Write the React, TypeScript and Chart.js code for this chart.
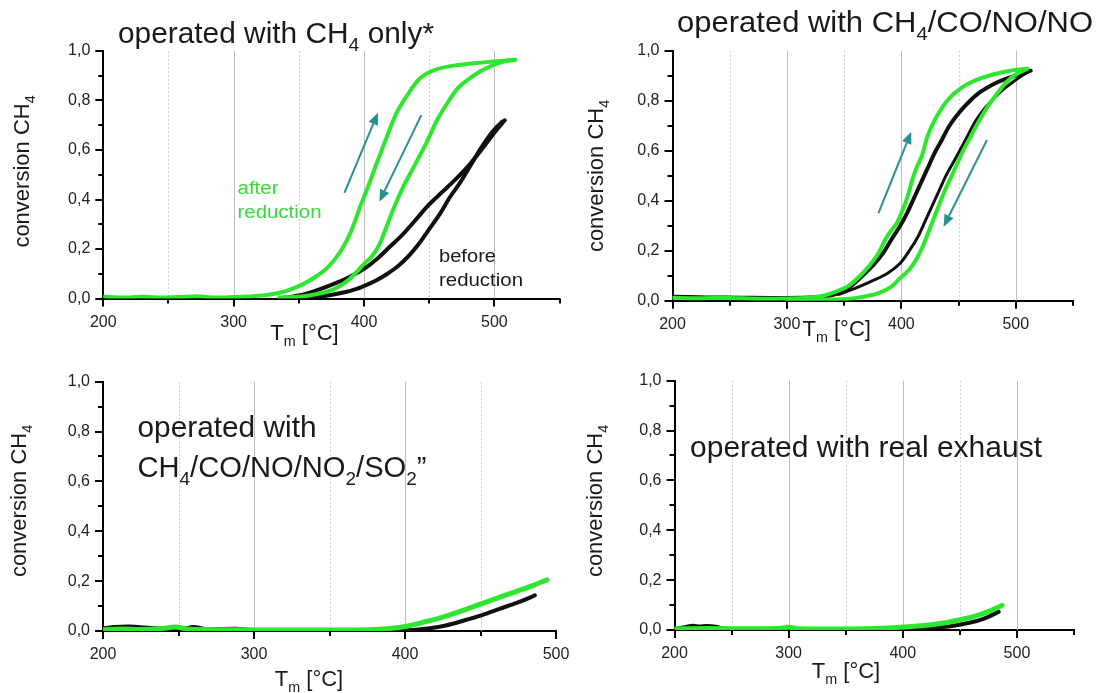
import React, { useEffect, useRef } from 'react';
import { Chart, registerables } from 'chart.js';

Chart.register(...registerables);

type Pt = [number, number];

// ---------------- data (temperature °C, conversion CH4) ----------------
// Panel 1: operated with CH4 only
const p1AfterHeat: Pt[] = [[200,0.008],[215,0.004],[230,0.007],[245,0.004],[260,0.006],[272,0.009],[285,0.004],[300,0.006],[315,0.009],[328,0.016],[340,0.03],[352,0.055],[362,0.085],[372,0.125],[382,0.19],[390,0.27],[397,0.37],[403,0.45],[410,0.55],[418,0.66],[425,0.75],[433,0.82],[443,0.89],[455,0.925],[470,0.942],[490,0.953],[505,0.96],[516,0.965]];
const p1AfterCool: Pt[] = [[516,0.965],[508,0.958],[500,0.945],[490,0.92],[480,0.885],[472,0.85],[464,0.79],[456,0.72],[448,0.63],[438,0.53],[430,0.45],[424,0.38],[418,0.3],[412,0.22],[406,0.17],[400,0.14],[394,0.105],[387,0.07],[378,0.04],[366,0.02],[352,0.008],[335,0.004]];
const p1BeforeA: Pt[] = [[338,0.003],[350,0.012],[362,0.03],[375,0.055],[388,0.085],[400,0.12],[410,0.16],[420,0.21],[430,0.26],[440,0.32],[450,0.38],[460,0.43],[470,0.48],[480,0.535],[490,0.6],[500,0.67],[508,0.72]];
const p1BeforeB: Pt[] = [[355,0.002],[370,0.01],[385,0.025],[395,0.04],[402,0.055],[410,0.075],[418,0.1],[426,0.13],[434,0.17],[442,0.22],[450,0.28],[458,0.34],[466,0.41],[474,0.47],[482,0.54],[490,0.61],[498,0.67],[506,0.715]];

// Panel 2: operated with CH4/CO/NO/NO
const p2AfterHeat: Pt[] = [[200,0.012],[225,0.01],[250,0.011],[275,0.008],[300,0.009],[318,0.012],[332,0.02],[344,0.038],[354,0.06],[364,0.1],[372,0.14],[380,0.19],[386,0.245],[391,0.28],[396,0.31],[400,0.35],[405,0.41],[410,0.49],[414,0.54],[418,0.58],[423,0.66],[430,0.73],[440,0.8],[452,0.85],[465,0.882],[480,0.905],[495,0.92],[510,0.928]];
const p2AfterCool: Pt[] = [[510,0.928],[500,0.905],[492,0.875],[484,0.83],[476,0.78],[468,0.72],[461,0.66],[454,0.6],[449,0.55],[443,0.49],[437,0.43],[431,0.36],[425,0.29],[419,0.22],[413,0.165],[407,0.125],[400,0.095],[391,0.055],[380,0.03],[366,0.015],[350,0.006],[330,0.005],[300,0.006]];
const p2BeforeA: Pt[] = [[200,0.016],[230,0.013],[260,0.012],[290,0.011],[320,0.013],[335,0.018],[345,0.03],[355,0.055],[366,0.1],[376,0.145],[384,0.19],[392,0.25],[399,0.3],[405,0.35],[411,0.41],[417,0.47],[423,0.53],[429,0.59],[435,0.64],[442,0.7],[450,0.75],[459,0.795],[469,0.835],[480,0.865],[490,0.885],[500,0.9],[513,0.92]];
const p2BeforeB: Pt[] = [[345,0.025],[360,0.05],[375,0.08],[388,0.11],[399,0.15],[407,0.2],[415,0.26],[421,0.32],[427,0.38],[433,0.44],[439,0.5],[445,0.55],[451,0.6],[458,0.66],[465,0.72],[473,0.77],[482,0.815],[491,0.852],[499,0.88],[506,0.902],[513,0.92]];

// Panel 3: operated with CH4/CO/NO/NO2/SO2
const p3After: Pt[] = [[200,0.005],[212,0.008],[225,0.006],[238,0.009],[248,0.016],[256,0.008],[270,0.006],[290,0.005],[320,0.004],[350,0.004],[375,0.005],[390,0.01],[402,0.02],[414,0.038],[426,0.058],[438,0.082],[450,0.108],[462,0.134],[473,0.157],[484,0.181],[494,0.205]];
const p3Before: Pt[] = [[200,0.01],[208,0.016],[218,0.018],[228,0.014],[240,0.009],[252,0.007],[260,0.016],[268,0.008],[288,0.009],[300,0.004],[340,0.003],[380,0.003],[405,0.004],[415,0.01],[427,0.022],[439,0.042],[451,0.064],[463,0.09],[474,0.113],[482,0.132],[486,0.143]];

// Panel 4: operated with real exhaust
const p4After: Pt[] = [[200,0.004],[230,0.006],[260,0.005],[290,0.006],[300,0.011],[308,0.005],[340,0.004],[370,0.005],[395,0.01],[410,0.015],[425,0.021],[440,0.031],[452,0.043],[464,0.057],[476,0.076],[487,0.099]];
const p4Before: Pt[] = [[200,0.004],[210,0.012],[216,0.017],[222,0.014],[228,0.016],[236,0.013],[244,0.005],[280,0.004],[330,0.004],[380,0.003],[410,0.004],[425,0.007],[440,0.014],[452,0.023],[464,0.035],[475,0.053],[484,0.073]];

// arrows (data coordinates: from -> to)
const p1Arrows: [Pt, Pt][] = [[[385, 0.427], [410.7, 0.751]], [[444, 0.741], [411.8, 0.391]]];
const p2Arrows: [Pt, Pt][] = [[[380, 0.35], [408.6, 0.676]], [[474.8, 0.643], [436.9, 0.296]]];

// axes
const X_MIN = 200;
const X_STEP = 50;
const Y_STEP = 0.1;
const p1XMax = 550, p2XMax = 550, p3XMax = 500, p4XMax = 550;

// ---------------- styling ----------------
const FONT = "'Liberation Sans', Arial, Helvetica, sans-serif";
const GREEN = '#2ee62e';
const GREEN_TEXT = '#3ad83a';
const BLACK = '#111111';
const TEAL = '#2a8f8f';
const TEXT = '#1a1a1a';

type Seg = { t: string; sub?: boolean };
type TextItem = { segs: Seg[]; x: number; y: number; size: number; w?: number; color?: string; align?: 'left' | 'center'; rot?: boolean };
type Series = { data: Pt[]; color: string; width: number };
type PanelCfg = {
  left: number; top: number; w: number; h: number;
  area: { l: number; t: number; r: number; b: number };
  xMax: number;
  series: Series[];
  texts: TextItem[];
  arrows: [Pt, Pt][];
};

const ylab = (x: number, y: number): TextItem => ({ segs: [{ t: 'conversion CH' }, { t: '4', sub: true }], x, y, size: 22, align: 'center', rot: true });
const xlab = (x: number, y: number): TextItem => ({ segs: [{ t: 'T' }, { t: 'm', sub: true }, { t: ' [°C]' }], x, y, size: 22, align: 'center' });

const PANELS: PanelCfg[] = [
  {
    left: 0, top: 0, w: 575, h: 350,
    area: { l: 103.3, t: 51, r: 559.5, b: 298.5 },
    xMax: p1XMax,
    series: [
      { data: p1AfterHeat, color: GREEN, width: 4 },
      { data: p1AfterCool, color: GREEN, width: 4 },
      { data: p1BeforeA, color: BLACK, width: 4 },
      { data: p1BeforeB, color: BLACK, width: 4 },
    ],
    texts: [
      { segs: [{ t: 'operated with CH' }, { t: '4', sub: true }, { t: ' only*' }], x: 118, y: 43, size: 29, w: 316 },
      ylab(28.5, 171.5),
      xlab(304.5, 340),
      { segs: [{ t: 'after' }], x: 237.5, y: 194, size: 18, w: 41, color: GREEN_TEXT },
      { segs: [{ t: 'reduction' }], x: 237.5, y: 218, size: 18, w: 84, color: GREEN_TEXT },
      { segs: [{ t: 'before' }], x: 439, y: 262, size: 18, w: 57 },
      { segs: [{ t: 'reduction' }], x: 439, y: 286, size: 18, w: 84 },
    ],
    arrows: p1Arrows,
  },
  {
    left: 575, top: 0, w: 529, h: 350,
    area: { l: 672.5, t: 50.7, r: 1073, b: 300.7 },
    xMax: p2XMax,
    series: [
      { data: p2AfterHeat, color: GREEN, width: 4 },
      { data: p2AfterCool, color: GREEN, width: 4 },
      { data: p2BeforeA, color: BLACK, width: 4 },
      { data: p2BeforeB, color: BLACK, width: 3 },
    ],
    texts: [
      { segs: [{ t: 'operated with CH' }, { t: '4', sub: true }, { t: '/CO/NO/NO' }], x: 677, y: 32, size: 29, w: 416 },
      ylab(603, 176),
      xlab(836.7, 336),
    ],
    arrows: p2Arrows,
  },
  {
    left: 0, top: 350, w: 575, h: 343,
    area: { l: 103, t: 381.7, r: 556, b: 631 },
    xMax: p3XMax,
    series: [
      { data: p3After, color: GREEN, width: 5 },
      { data: p3Before, color: BLACK, width: 4 },
    ],
    texts: [
      { segs: [{ t: 'operated with' }], x: 137.5, y: 436.7, size: 29, w: 179 },
      { segs: [{ t: 'CH' }, { t: '4', sub: true }, { t: '/CO/NO/NO' }, { t: '2', sub: true }, { t: '/SO' }, { t: '2', sub: true }, { t: '”' }], x: 137.5, y: 476.7, size: 29, w: 289 },
      ylab(25.5, 501),
      xlab(309, 686),
    ],
    arrows: [],
  },
  {
    left: 575, top: 350, w: 529, h: 343,
    area: { l: 674.5, t: 380.7, r: 1074, b: 630 },
    xMax: p4XMax,
    series: [
      { data: p4After, color: GREEN, width: 5 },
      { data: p4Before, color: BLACK, width: 4 },
    ],
    texts: [
      { segs: [{ t: 'operated with real exhaust' }], x: 690, y: 456.7, size: 29, w: 352 },
      ylab(601.5, 501),
      xlab(846, 678),
    ],
    arrows: [],
  },
];

function drawRich(ctx: CanvasRenderingContext2D, it: TextItem) {
  const subScale = 0.65;
  const widths = it.segs.map((s) => {
    ctx.font = `${s.sub ? it.size * subScale : it.size}px ${FONT}`;
    return ctx.measureText(s.t).width;
  });
  const nat = widths.reduce((a, b) => a + b, 0);
  const sx = it.w ? it.w / nat : 1;
  ctx.save();
  ctx.translate(it.x, it.y);
  if (it.rot) ctx.rotate(-Math.PI / 2);
  ctx.scale(sx, 1);
  let cx = it.align === 'center' ? -nat / 2 : 0;
  ctx.fillStyle = it.color || TEXT;
  ctx.textAlign = 'left';
  ctx.textBaseline = 'alphabetic';
  it.segs.forEach((s, i) => {
    ctx.font = `${s.sub ? it.size * subScale : it.size}px ${FONT}`;
    ctx.fillText(s.t, cx, s.sub ? it.size * 0.28 : 0);
    cx += widths[i];
  });
  ctx.restore();
}

function makeDecor(cfg: PanelCfg) {
  return {
    id: 'decor',
    beforeDatasetsDraw(chart: any) {
      const { ctx, chartArea: a } = chart;
      const xs = chart.scales.x;
      ctx.save();
      ctx.lineWidth = 1;
      for (const t of xs.ticks) {
        const v = t.value;
        if (v <= xs.min || v >= xs.max) continue;
        const px = Math.round(xs.getPixelForValue(v)) + 0.5;
        const major = Math.round(v) % 100 === 0;
        ctx.strokeStyle = major ? '#bcbcbc' : '#cfcfcf';
        ctx.setLineDash(major ? [] : [2, 2]);
        ctx.beginPath();
        ctx.moveTo(px, a.top);
        ctx.lineTo(px, a.bottom);
        ctx.stroke();
      }
      ctx.restore();
    },
    afterDraw(chart: any) {
      const { ctx, chartArea: a } = chart;
      const xs = chart.scales.x;
      const ys = chart.scales.y;
      ctx.save();
      // tick marks
      ctx.strokeStyle = '#000';
      ctx.lineWidth = 2;
      ctx.setLineDash([]);
      ctx.beginPath();
      for (const t of xs.ticks) {
        const px = Math.round(xs.getPixelForValue(t.value));
        const len = Math.round(t.value) % 100 === 0 ? 8 : 5;
        ctx.moveTo(px, a.bottom);
        ctx.lineTo(px, a.bottom + len);
      }
      for (const t of ys.ticks) {
        const py = Math.round(ys.getPixelForValue(t.value));
        const len = Math.round(t.value * 10) % 2 === 0 ? 8 : 5;
        ctx.moveTo(a.left, py);
        ctx.lineTo(a.left - len, py);
      }
      ctx.stroke();

      // arrows
      ctx.strokeStyle = TEAL;
      ctx.fillStyle = TEAL;
      ctx.lineWidth = 2;
      for (const [f, t] of cfg.arrows) {
        const x0 = xs.getPixelForValue(f[0]), y0 = ys.getPixelForValue(f[1]);
        const x1 = xs.getPixelForValue(t[0]), y1 = ys.getPixelForValue(t[1]);
        const ang = Math.atan2(y1 - y0, x1 - x0);
        const hl = 12, hw = 5;
        const bx = x1 - hl * Math.cos(ang), by = y1 - hl * Math.sin(ang);
        ctx.beginPath();
        ctx.moveTo(x0, y0);
        ctx.lineTo(bx, by);
        ctx.stroke();
        ctx.beginPath();
        ctx.moveTo(x1, y1);
        ctx.lineTo(bx + hw * Math.sin(ang), by - hw * Math.cos(ang));
        ctx.lineTo(bx - hw * Math.sin(ang), by + hw * Math.cos(ang));
        ctx.closePath();
        ctx.fill();
      }

      // texts (page coordinates)
      ctx.translate(-cfg.left, -cfg.top);
      for (const it of cfg.texts) drawRich(ctx, it);
      ctx.restore();
    },
  };
}

function Panel({ cfg }: { cfg: PanelCfg }) {
  const ref = useRef<HTMLCanvasElement>(null);
  useEffect(() => {
    const canvas = ref.current;
    if (!canvas) return;
    const { left, top, w, h, area } = cfg;
    const tickFont = { family: FONT, size: 16 };
    const chart = new Chart(canvas, {
      type: 'scatter',
      data: {
        datasets: cfg.series.map((s) => ({
          data: s.data.map(([x, y]) => ({ x, y })),
          borderColor: s.color,
          backgroundColor: s.color,
          borderWidth: s.width,
          showLine: true,
          pointRadius: 0,
          tension: 0.3,
          fill: false,
          borderJoinStyle: 'round',
          borderCapStyle: 'round',
        })),
      },
      options: {
        responsive: false,
        animation: false,
        devicePixelRatio: 1,
        events: [],
        layout: { padding: { left: 0, top: area.t - top, right: left + w - area.r, bottom: 0 } },
        plugins: { legend: { display: false }, tooltip: { enabled: false }, title: { display: false } },
        scales: {
          x: {
            type: 'linear',
            min: X_MIN,
            max: cfg.xMax,
            grid: { display: false, drawTicks: false },
            border: { display: true, color: '#000', width: 2 },
            ticks: {
              stepSize: X_STEP,
              autoSkip: false,
              maxRotation: 0,
              padding: 14,
              font: tickFont,
              color: '#222',
              callback: (v: any) => (Math.round(v) % 100 === 0 ? String(Math.round(v)) : ''),
            },
            afterFit: (s: any) => {
              s.height = top + h - area.b;
              s.paddingLeft = 0;
              s.paddingRight = 0;
            },
          },
          y: {
            type: 'linear',
            min: 0,
            max: 1,
            grid: { display: false, drawTicks: false },
            border: { display: true, color: '#000', width: 2 },
            ticks: {
              stepSize: Y_STEP,
              autoSkip: false,
              padding: 13,
              font: tickFont,
              color: '#222',
              callback: (v: any) => {
                const k = Math.round(v * 10);
                return k % 2 === 0 ? (k / 10).toFixed(1).replace('.', ',') : '';
              },
            },
            afterFit: (s: any) => {
              s.width = area.l - left;
              s.paddingTop = 0;
              s.paddingBottom = 0;
            },
          },
        },
      } as any,
      plugins: [makeDecor(cfg)],
    });
    return () => chart.destroy();
  }, [cfg]);
  return (
    <canvas
      ref={ref}
      width={cfg.w}
      height={cfg.h}
      style={{ position: 'absolute', left: cfg.left, top: cfg.top, width: cfg.w, height: cfg.h }}
    />
  );
}

export default function App() {
  return (
    <div style={{ position: 'absolute', left: 0, top: 0, width: 1104, height: 693, background: '#fff', overflow: 'hidden' }}>
      {PANELS.map((p, i) => (
        <Panel key={i} cfg={p} />
      ))}
    </div>
  );
}
